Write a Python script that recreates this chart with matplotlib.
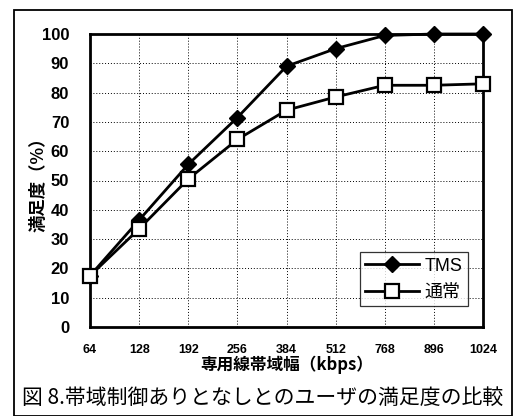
import matplotlib
matplotlib.use("Agg")
import matplotlib.pyplot as plt
from matplotlib.patches import Rectangle

plt.rcParams['font.family'] = ['Liberation Sans', 'Noto Sans CJK JP', 'DejaVu Sans']

bandwidth = ["64", "128", "192", "256", "384", "512", "768", "896", "1024"]
tms = [17.5, 36.5, 55.5, 71.5, 89, 95, 99.5, 100, 100]
normal = [17.5, 33.5, 50.5, 64, 74, 78.5, 82.5, 82.5, 83]
yticks = [0, 10, 20, 30, 40, 50, 60, 70, 80, 90, 100]

fig = plt.figure(figsize=(5.16, 4.16), dpi=100)
ax = fig.add_axes([90/516, 89/416, 393/516, 293/416])

x = list(range(len(bandwidth)))
ax.plot(x, tms, color='black', lw=2, marker='D', ms=8.5,
        mfc='black', mec='black', label='TMS', zorder=3, clip_on=False)
ax.plot(x, normal, color='black', lw=2, marker='s', ms=10,
        mfc='white', mec='black', mew=1.6, label='通常', zorder=3, clip_on=False)

ax.set_xlim(0, len(bandwidth) - 1)
ax.set_ylim(0, 100)
ax.set_xticks(x)
ax.set_xticklabels(bandwidth, fontsize=9, fontweight='bold')
ax.set_yticks(yticks)
ax.set_yticklabels([str(v) for v in yticks], fontsize=12, fontweight='bold')
ax.tick_params(length=0)
ax.tick_params(axis='x', pad=12)
ax.tick_params(axis='y', pad=15)
ax.grid(True, color='black', ls=(0, (1, 2)), lw=0.7)
for s in ax.spines.values():
    s.set_linewidth(2)

ax.set_xlabel('専用線帯域幅（kbps）', fontsize=12, fontweight='bold',
              family=['Noto Sans CJK JP'], labelpad=0)
ax.set_ylabel('満足度（%）', fontsize=12.5, fontweight='bold',
              family=['Noto Sans CJK JP'], labelpad=-4)

leg = ax.legend(loc='lower right', bbox_to_anchor=(0.985, 0.04), fontsize=13,
                frameon=True, fancybox=False, edgecolor='black',
                handlelength=3, borderpad=0.3, labelspacing=0.5,
                handletextpad=0.3)
leg.get_frame().set_linewidth(0.9)
for t in leg.get_texts():
    t.set_family(['Liberation Sans', 'Noto Sans CJK JP'])

fig.add_artist(Rectangle((14/516, 0.5/416), 498/516, 406/416,
                         transform=fig.transFigure, fill=False,
                         edgecolor='black', lw=1.3))
fig.text(22/516, 1 - 398/416, '図 8.帯域制御ありとなしとのユーザの満足度の比較',
         fontsize=15, family=['Noto Sans CJK JP'], va='center', ha='left')

fig.savefig('out.png', dpi=100)
